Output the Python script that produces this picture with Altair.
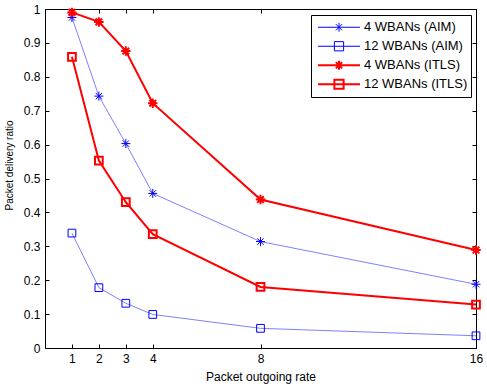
import altair as alt
import pandas as pd

rates = [1, 2, 3, 4, 8, 16]
aim4 = [0.975, 0.743, 0.603, 0.456, 0.314, 0.188]
aim12 = [0.339, 0.178, 0.132, 0.099, 0.058, 0.036]
itls4 = [0.99, 0.962, 0.876, 0.722, 0.438, 0.289]
itls12 = [0.859, 0.553, 0.43, 0.336, 0.18, 0.128]
series_names = ["4 WBANs (AIM)", "12 WBANs (AIM)", "4 WBANs (ITLS)", "12 WBANs (ITLS)"]
series_values = [aim4, aim12, itls4, itls12]
y_ticks = [0, 0.1, 0.2, 0.3, 0.4, 0.5, 0.6, 0.7, 0.8, 0.9, 1]

rows = []
for name, vals in zip(series_names, series_values):
    for r, v in zip(rates, vals):
        rows.append({"rate": r, "ratio": v, "series": name})
df = pd.DataFrame(rows)

W, H = 431, 339
FONT = "Liberation Sans"
BLUE = "#0000ff"
LIGHTBLUE = "#8080ff"
RED = "#ff0000"

star = "M-1,0L1,0M0,-1L0,1M-0.7,-0.7L0.7,0.7M-0.7,0.7L0.7,-0.7"
leg_star = "M-1,0L1,0M0,-0.21L0,0.21M-0.15,-0.15L0.15,0.15M-0.15,0.15L0.15,-0.15"
leg_square = "M-1,0L1,0M-0.22,-0.22L0.22,-0.22L0.22,0.22L-0.22,0.22Z"

x = alt.X(
    "rate:Q",
    scale=alt.Scale(domain=[0, 16], nice=False, zero=False),
    axis=alt.Axis(
        values=rates, title="Packet outgoing rate", grid=True,
        gridDash=[4, H - 8, 4, 3000], gridColor="black", gridOpacity=1, gridWidth=1,
        ticks=False, tickSize=0, domain=False, labelPadding=5, titlePadding=7,
        labelFontSize=12, titleFontSize=12, titleFontWeight="normal",
        labelFlush=False, labelColor="black", titleColor="black",
        labelFont=FONT, titleFont=FONT,
    ),
)
y = alt.Y(
    "ratio:Q",
    scale=alt.Scale(domain=[0, 1], nice=False),
    axis=alt.Axis(
        values=y_ticks, format="~g", title="Packet delivery ratio", grid=True,
        gridDash=[4, W - 8, 4, 3000], gridColor="black", gridOpacity=1, gridWidth=1,
        ticks=False, tickSize=0, domain=False, labelPadding=5, titlePadding=9,
        titleY=156,
        labelFontSize=12, titleFontSize=10, titleFontWeight="normal",
        labelFlush=False, labelColor="black", titleColor="black",
        labelFont=FONT, titleFont=FONT,
    ),
)

base = alt.Chart(df)

def sel(names):
    return alt.FieldOneOfPredicate(field="series", oneOf=names)

blue_lines = base.transform_filter(sel(series_names[:2])).mark_line(
    color=LIGHTBLUE, strokeWidth=1).encode(x=x, y=y, detail="series:N")
red_lines = base.transform_filter(sel(series_names[2:])).mark_line(
    color=RED, strokeWidth=2).encode(x=x, y=y, detail="series:N")

blue_stars = base.transform_filter(sel([series_names[0]])).mark_point(
    shape=star, filled=False, color=BLUE, strokeWidth=1, size=81, opacity=1).encode(x=x, y=y)
blue_squares = base.transform_filter(sel([series_names[1]])).mark_point(
    shape="square", filled=False, color=BLUE, strokeWidth=1, size=60, opacity=1).encode(x=x, y=y)
red_stars = base.transform_filter(sel([series_names[2]])).mark_point(
    shape=star, filled=False, color=RED, strokeWidth=2, size=90, opacity=1).encode(x=x, y=y)
red_squares = base.transform_filter(sel([series_names[3]])).mark_point(
    shape="square", filled=False, color=RED, strokeWidth=2, size=60, opacity=1).encode(x=x, y=y)

leg = alt.Legend(
    title=None, orient="none", legendX=266, legendY=6, padding=3,
    strokeColor="black", fillColor="white", symbolSize=1764, symbolOpacity=1,
    clipHeight=18.5, rowPadding=0, labelFontSize=13, labelFont=FONT,
    labelColor="black", symbolOffset=3, labelOffset=3, cornerRadius=0,
)

legend_layer = base.mark_point(filled=False, opacity=0, size=1764).encode(
    x=x, y=y,
    color=alt.Color("series:N", scale=alt.Scale(domain=series_names,
                    range=[BLUE, BLUE, RED, RED]), legend=leg),
    shape=alt.Shape("series:N", scale=alt.Scale(domain=series_names,
                    range=[leg_star, leg_square, leg_star, leg_square]), legend=leg),
    strokeWidth=alt.StrokeWidth("series:N", scale=alt.Scale(type="ordinal", domain=series_names,
                    range=[1, 1, 2, 2]), legend=leg),
)

chart = alt.layer(
    blue_lines, red_lines, blue_stars, blue_squares, red_stars, red_squares, legend_layer
).properties(
    width=W, height=H,
    padding={"left": 45, "top": 9, "right": 11, "bottom": 42},
    autosize=alt.AutoSizeParams(type="none"),
    background="white",
).configure_view(stroke="black", strokeWidth=1)

chart.save("out.html", embed_options={"renderer": "svg", "actions": False})
